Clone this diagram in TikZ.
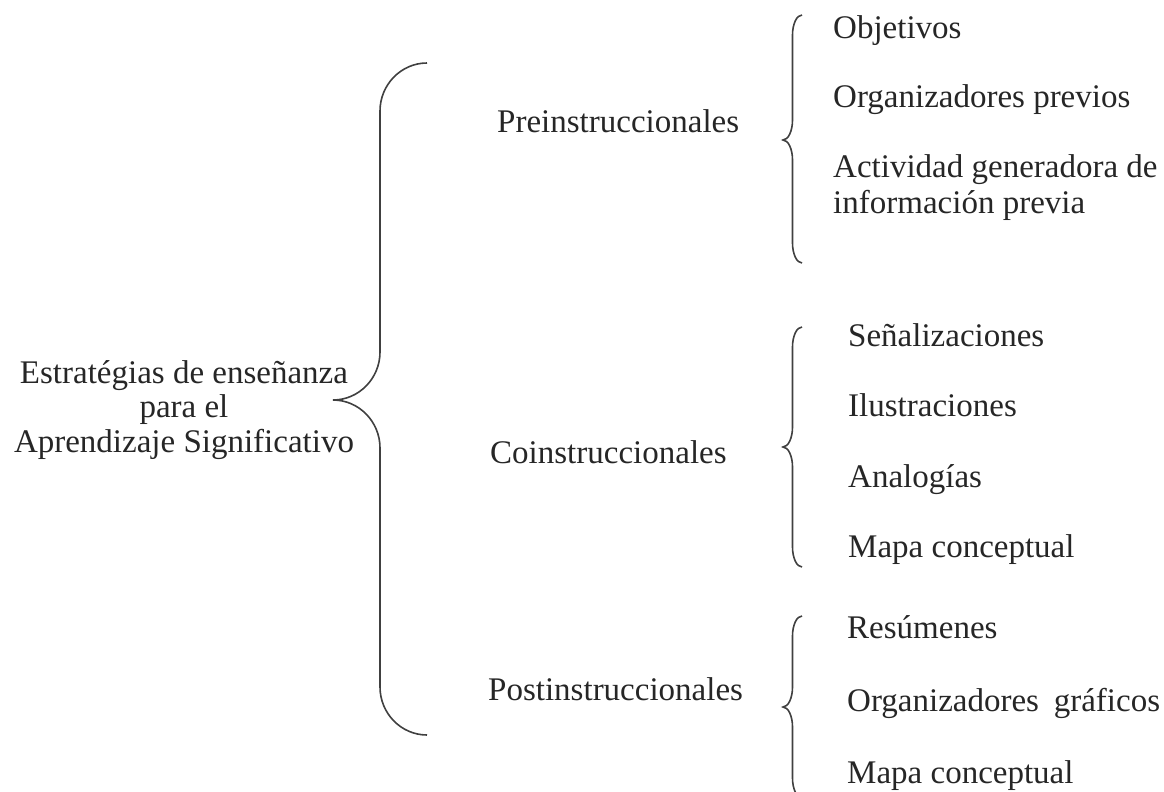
\documentclass[tikz,border=0pt]{standalone}
\usepackage{fontspec}
\setmainfont{Liberation Serif}

% brace: spine x, top y, tip y, bottom y, width, radius
\newcommand{\llave}[6]{%
  \draw[llave] ({#1+#5},#2) .. controls ({#1+0.45*#5},#2) and (#1,{#2+0.45*#6}) .. (#1,{#2+#6})
    -- (#1,{#3-#6}) .. controls (#1,{#3-0.45*#6}) and ({#1-0.45*#5},#3) .. ({#1-#5},#3)
    .. controls ({#1-0.45*#5},#3) and (#1,{#3+0.45*#6}) .. (#1,{#3+#6})
    -- (#1,{#4-#6}) .. controls (#1,{#4-0.45*#6}) and ({#1+0.45*#5},#4) .. ({#1+#5},#4);}

\begin{document}
\begin{tikzpicture}[x=1pt, y=-1pt,
  every node/.style={font=\fontsize{33}{34.5}\selectfont, text=black!85, inner sep=0pt},
  item/.style={anchor=base west},
  llave/.style={draw=black!75, line width=1.6pt}]
			\clip (0,0) rectangle (1164,792);

			% Nodes
			\node[anchor=base, align=center] (raiz) at (184,452) {Estratégias de enseñanza\\para el\\Aprendizaje Significativo};

			\node[item] (pre) at (497,132) {Preinstruccionales};
			\node[item] (co) at (490,463) {Coinstruccionales};
			\node[item] (post) at (488,700) {Postinstruccionales};

			\node[item] (obj) at (833,39) {Objetivos};
			\node[item] (orgp) at (833,107) {Organizadores previos};
			\node[item, align=left, font=\fontsize{33}{36}\selectfont] (act) at (833,213) {Actividad generadora de\\información previa};

			\node[item] (sen) at (848,346) {Señalizaciones};
			\node[item] (ilu) at (848,416) {Ilustraciones};
			\node[item] (ana) at (848,487) {Analogías};
			\node[item] (mapa1) at (848,557) {Mapa conceptual};

			\node[item] (res) at (847,638) {Resúmenes};
			\node[item] (orgg) at (847,711) {Organizadores\hspace{0.2em} gráficos};
			\node[item] (mapa2) at (847,783) {Mapa conceptual};

			% Braces
			\llave{380}{63}{400}{735}{47}{48}
			\llave{792.5}{15}{140}{263}{9.5}{20}
			\llave{792.5}{327}{447}{567}{9.5}{20}
			\llave{792.5}{616}{707}{798}{9.5}{20}
		\end{tikzpicture}
\end{document}
